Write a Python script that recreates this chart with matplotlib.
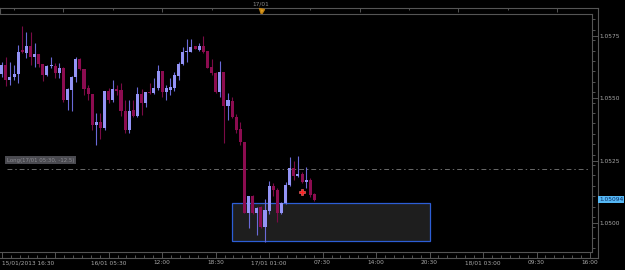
import numpy as np
import matplotlib
matplotlib.use('Agg')
import matplotlib.pyplot as plt
from matplotlib.patches import Rectangle

# 30 minute candles, first one opens 15/01/2013 16:30
opens = [1.05598, 1.05634, 1.05574, 1.05586, 1.05598, 1.05694, 1.05682, 1.05710, 1.05666, 1.05678,
         1.05638, 1.05594, 1.05630, 1.05630, 1.05602, 1.05622, 1.05493, 1.05534, 1.05586, 1.05658,
         1.05618, 1.05542, 1.05517, 1.05393, 1.05405, 1.05381, 1.05530, 1.05493, 1.05538, 1.05534,
         1.05449, 1.05373, 1.05453, 1.05429, 1.05517, 1.05481, 1.05526, 1.05522, 1.05542, 1.05610,
         1.05526, 1.05534, 1.05542, 1.05590, 1.05638, 1.05686, 1.05686, 1.05710, 1.05694, 1.05710,
         1.05690, 1.05626, 1.05602, 1.05526, 1.05606, 1.05469, 1.05489, 1.05425, 1.05377, 1.05325,
         1.05040, 1.05108, 1.05040, 1.05064, 1.04984, 1.05048, 1.05149, 1.05133, 1.05040, 1.05080,
         1.05153, 1.05221, 1.05189, 1.05197, 1.05165, 1.05173, 1.05117]
highs = [1.05646, 1.05666, 1.05646, 1.05634, 1.05714, 1.05790, 1.05766, 1.05766, 1.05722, 1.05678,
         1.05638, 1.05634, 1.05666, 1.05642, 1.05642, 1.05626, 1.05542, 1.05590, 1.05666, 1.05662,
         1.05618, 1.05554, 1.05517, 1.05441, 1.05441, 1.05530, 1.05542, 1.05574, 1.05554, 1.05562,
         1.05493, 1.05493, 1.05493, 1.05546, 1.05538, 1.05526, 1.05562, 1.05582, 1.05634, 1.05610,
         1.05554, 1.05582, 1.05606, 1.05646, 1.05706, 1.05738, 1.05738, 1.05710, 1.05722, 1.05750,
         1.05690, 1.05658, 1.05606, 1.05650, 1.05606, 1.05522, 1.05505, 1.05437, 1.05405, 1.05325,
         1.05108, 1.05112, 1.05064, 1.05068, 1.05096, 1.05169, 1.05161, 1.05141, 1.05084, 1.05165,
         1.05265, 1.05249, 1.05269, 1.05205, 1.05225, 1.05181, 1.05121]
lows = [1.05586, 1.05550, 1.05554, 1.05574, 1.05562, 1.05682, 1.05662, 1.05634, 1.05626, 1.05626,
        1.05570, 1.05590, 1.05622, 1.05582, 1.05582, 1.05485, 1.05453, 1.05449, 1.05566, 1.05614,
        1.05513, 1.05493, 1.05373, 1.05313, 1.05337, 1.05373, 1.05481, 1.05485, 1.05513, 1.05429,
        1.05361, 1.05361, 1.05425, 1.05425, 1.05433, 1.05465, 1.05517, 1.05517, 1.05534, 1.05505,
        1.05493, 1.05513, 1.05530, 1.05574, 1.05634, 1.05646, 1.05686, 1.05698, 1.05690, 1.05682,
        1.05622, 1.05594, 1.05522, 1.05505, 1.05321, 1.05413, 1.05421, 1.05361, 1.05313, 1.05040,
        1.04980, 1.05036, 1.04952, 1.04980, 1.04924, 1.05036, 1.05108, 1.05004, 1.05036, 1.05076,
        1.05149, 1.05173, 1.05185, 1.05161, 1.05141, 1.05104, 1.05088]
closes = [1.05634, 1.05574, 1.05586, 1.05598, 1.05686, 1.05686, 1.05710, 1.05666, 1.05678, 1.05638,
          1.05594, 1.05630, 1.05634, 1.05602, 1.05622, 1.05493, 1.05538, 1.05586, 1.05658, 1.05618,
          1.05538, 1.05517, 1.05393, 1.05405, 1.05381, 1.05530, 1.05493, 1.05538, 1.05530, 1.05449,
          1.05373, 1.05449, 1.05429, 1.05517, 1.05481, 1.05526, 1.05522, 1.05542, 1.05610, 1.05526,
          1.05542, 1.05546, 1.05594, 1.05638, 1.05686, 1.05690, 1.05706, 1.05698, 1.05710, 1.05686,
          1.05622, 1.05602, 1.05526, 1.05606, 1.05469, 1.05493, 1.05425, 1.05373, 1.05325, 1.05040,
          1.05108, 1.05040, 1.05060, 1.04984, 1.05052, 1.05149, 1.05133, 1.05040, 1.05080, 1.05153,
          1.05221, 1.05189, 1.05197, 1.05165, 1.05173, 1.05112, 1.05094]

time_labels = ['15/01/2013 16:30', '', '16/01 05:30', '12:00', '18:30', '17/01 01:00',
               '07:30', '14:00', '20:30', '18/01 03:00', '09:30', '16:00']
price_ticks = [1.0500, 1.0525, 1.0550, 1.0575]

entry_price = 1.05219
last_price = 1.05094
trade_label = 'Long(17/01 05:30, -12.5)'
marker_hour, marker_price = 36.5, 1.05125
zone_start, zone_end = 28.0, 52.0
zone_low, zone_high = 1.04929, 1.05081
nav_label = '17/01'
nav_hour = 31.5

W, H = 625, 270
def box(x0, y0, x1, y1):
    return [x0 / W, 1 - y1 / H, (x1 - x0) / W, (y1 - y0) / H]

grey = '#555555'
txt = '#a8a8a8'
fs = 4.2
xmin, xmax_in, xmax_out = -0.207, 71.74, 72.47

fig = plt.figure(figsize=(6.25, 2.7), dpi=100, facecolor='black')

# outer frame with the time axis ticks
outer = fig.add_axes(box(0, 8, 598, 258))
outer.set_facecolor('black')
outer.set_xlim(xmin, xmax_out)
outer.set_ylim(0, 1)
outer.set_yticks([])
for s in ['top', 'right', 'bottom']:
    outer.spines[s].set_color(grey)
    outer.spines[s].set_linewidth(0.8)
outer.spines['left'].set_visible(False)
outer.set_xticks(np.arange(len(time_labels)) * 6.5)
outer.set_xticklabels(time_labels)
outer.set_xticks(np.arange(0, xmax_out, 6.5 / 6), minor=True)
outer.tick_params(axis='x', which='major', direction='in', length=4.3, width=0.7,
                  color=grey, labelcolor=txt, labelsize=fs, pad=1.6)
outer.tick_params(axis='x', which='minor', direction='in', length=1.9, width=0.7, color=grey)
outer.get_xticklabels()[0].set_ha('left')
outer.get_xticklabels()[0].set_x(-0.15)

# navigator strip on top
nav = fig.add_axes(box(0, 8, 598, 14))
nav.patch.set_alpha(0)
nav.set_xlim(xmin, xmax_out)
nav.set_ylim(0, 1)
for s in ['top', 'right', 'bottom']:
    nav.spines[s].set_visible(False)
nav.spines['left'].set_color(grey)
nav.set_yticks([])
nav.xaxis.set_ticks_position('top')
nav.set_xticks(np.arange(7.5, xmax_out, 12))
nav.set_xticks(np.arange(1.5, xmax_out, 12), minor=True)
nav.tick_params(axis='x', which='major', direction='in', length=2.6, width=0.7,
                color=grey, labeltop=False)
nav.tick_params(axis='x', which='minor', direction='in', length=1.4, width=0.7, color=grey)
nav.plot(nav_hour, 0.5, marker='v', color='#e0a020', ms=3.6, mec='#c08010', clip_on=False)
nav.text(nav_hour, 1.75, nav_label, color='#8a8a8a', fontsize=fs, ha='center', va='center')

# main price panel
ax = fig.add_axes(box(0, 14, 592, 252))
ax.set_facecolor('black')
ax.set_xlim(xmin, xmax_in)
ax.set_ylim(1.04885, 1.05838)
for s in ['top', 'right', 'bottom']:
    ax.spines[s].set_color(grey)
    ax.spines[s].set_linewidth(0.8)
ax.spines['left'].set_visible(False)
ax.set_xticks([])
ax.yaxis.tick_right()
ax.set_yticks(price_ticks)
ax.set_yticklabels(['%.4f' % p for p in price_ticks])
ax.set_yticks(np.arange(1.0490, 1.0585, 0.0025 / 6), minor=True)
ax.tick_params(axis='y', which='major', direction='out', length=4.3, width=0.7,
               color=grey, labelcolor=txt, labelsize=fs, pad=1.2)
ax.tick_params(axis='y', which='minor', direction='out', length=1.9, width=0.7, color=grey)

ax.add_patch(Rectangle((zone_start, zone_low), zone_end - zone_start, zone_high - zone_low,
                       facecolor='#1e1e1e', edgecolor='#2d5ed6', lw=0.9, zorder=1))

o = np.array(opens)
c = np.array(closes)
t = np.arange(len(o)) * 0.5
up = c >= o
body_col = np.where(up, '#9494f6', '#8c0c50')
wick_col = np.where(up, '#6a6ad8', '#7a0a46')
ax.vlines(t, lows, highs, colors=wick_col, lw=0.8, zorder=3)
ax.bar(t, np.maximum(np.abs(c - o), 0.00003), bottom=np.minimum(o, c), width=0.37,
       color=body_col, lw=0, zorder=4)

ax.axhline(entry_price, xmin=0.011, xmax=0.997, color='#6a6a6a', lw=0.7,
           dashes=(5, 3, 1.5, 3), zorder=2)
ax.text(0.62, entry_price + 0.00033, trade_label, fontsize=3.9, color='#8c8c92',
        ha='left', va='center', zorder=5,
        bbox=dict(boxstyle='square,pad=0.25', fc='#4a4a50', ec='none'))
ax.plot(marker_hour, marker_price, marker='P', ms=4, color='#ff2020', mec='#ff7070',
        mew=0.4, zorder=6)

ax.text(1.012, last_price, '%.5f' % last_price, transform=ax.get_yaxis_transform(),
        fontsize=fs, color='#0a2a60', ha='left', va='center', clip_on=False,
        bbox=dict(boxstyle='square,pad=0.15', fc='#55b8f5', ec='none'))

fig.savefig('out.png', dpi=100, facecolor='black')
